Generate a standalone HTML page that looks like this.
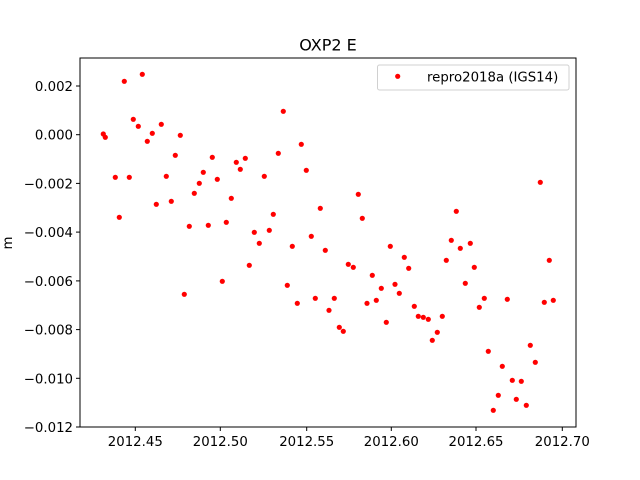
<!DOCTYPE html>
<html><head><meta charset="utf-8"><style>
html,body{margin:0;padding:0;background:#fff}
svg{display:block;font-family:"DejaVu Sans","Liberation Sans",sans-serif}
</style></head><body>
<svg width="640" height="480" viewBox="0 0 640 480" xmlns="http://www.w3.org/2000/svg">
<rect width="640" height="480" fill="#fff"/>
<g fill="#ff0000">
<circle cx="124.3" cy="81.3" r="2.6"/><circle cx="142.3" cy="74.3" r="2.6"/><circle cx="133.3" cy="119.3" r="2.6"/><circle cx="138.3" cy="126.3" r="2.6"/><circle cx="161.3" cy="124.3" r="2.6"/><circle cx="152.3" cy="133.3" r="2.6"/><circle cx="147.3" cy="141.3" r="2.6"/><circle cx="103.3" cy="134" r="2.6"/><circle cx="105.3" cy="137.3" r="2.6"/><circle cx="180.3" cy="135.3" r="2.6"/><circle cx="175.3" cy="155.3" r="2.6"/><circle cx="212.3" cy="157.3" r="2.6"/><circle cx="236.3" cy="162.3" r="2.6"/><circle cx="245.3" cy="158.3" r="2.6"/><circle cx="240.3" cy="169.3" r="2.6"/><circle cx="203.3" cy="172.3" r="2.6"/><circle cx="217.3" cy="179.3" r="2.6"/><circle cx="199.3" cy="183.3" r="2.6"/><circle cx="194.3" cy="193.3" r="2.6"/><circle cx="231.3" cy="198.3" r="2.6"/><circle cx="115.3" cy="177.3" r="2.6"/><circle cx="129.3" cy="177.3" r="2.6"/><circle cx="166.3" cy="176.3" r="2.6"/><circle cx="156.3" cy="204.3" r="2.6"/><circle cx="171.3" cy="201.3" r="2.6"/><circle cx="119.3" cy="217.3" r="2.6"/><circle cx="189.3" cy="226.3" r="2.6"/><circle cx="208.3" cy="225.3" r="2.6"/><circle cx="226.3" cy="222.3" r="2.6"/><circle cx="249.3" cy="265.3" r="2.6"/><circle cx="222.3" cy="281.3" r="2.6"/><circle cx="184.3" cy="294.3" r="2.6"/>
<circle cx="283.3" cy="111.3" r="2.6"/><circle cx="301.3" cy="144.3" r="2.6"/><circle cx="278.3" cy="153.3" r="2.6"/><circle cx="306.3" cy="170.3" r="2.6"/><circle cx="264.3" cy="176.3" r="2.6"/><circle cx="358.3" cy="194.3" r="2.6"/><circle cx="320.3" cy="208.3" r="2.6"/><circle cx="362.3" cy="218.3" r="2.6"/><circle cx="273.3" cy="214.3" r="2.6"/><circle cx="254.3" cy="232.3" r="2.6"/><circle cx="269.3" cy="230.3" r="2.6"/><circle cx="259.3" cy="243.3" r="2.6"/><circle cx="311.3" cy="236.3" r="2.6"/><circle cx="292.3" cy="246.3" r="2.6"/><circle cx="325.3" cy="250.3" r="2.6"/><circle cx="390.3" cy="246.3" r="2.6"/><circle cx="404.3" cy="257.3" r="2.6"/><circle cx="408.7" cy="268.3" r="2.6"/><circle cx="348.3" cy="264.3" r="2.6"/><circle cx="353.3" cy="267.3" r="2.6"/><circle cx="372.3" cy="275.3" r="2.6"/><circle cx="287.3" cy="285.3" r="2.6"/><circle cx="381.3" cy="288.3" r="2.6"/><circle cx="395" cy="284.3" r="2.6"/><circle cx="399.3" cy="293.3" r="2.6"/><circle cx="315.3" cy="298.3" r="2.6"/><circle cx="334.3" cy="298.3" r="2.6"/><circle cx="297.3" cy="303.3" r="2.6"/><circle cx="367" cy="303.3" r="2.6"/><circle cx="376.3" cy="300.3" r="2.6"/><circle cx="329" cy="310.3" r="2.6"/><circle cx="386.3" cy="322.3" r="2.6"/><circle cx="339.3" cy="327.3" r="2.6"/><circle cx="343.3" cy="331.3" r="2.6"/>
<circle cx="540.3" cy="182.3" r="2.6"/><circle cx="456.3" cy="211.3" r="2.6"/><circle cx="451.3" cy="240.3" r="2.6"/><circle cx="460.3" cy="248.3" r="2.6"/><circle cx="470.3" cy="243.3" r="2.6"/><circle cx="446.3" cy="260.3" r="2.6"/><circle cx="549.3" cy="260.3" r="2.6"/><circle cx="474.3" cy="267.3" r="2.6"/><circle cx="465.3" cy="283.3" r="2.6"/><circle cx="484.3" cy="298.3" r="2.6"/><circle cx="479.3" cy="307.3" r="2.6"/><circle cx="507.3" cy="299.3" r="2.6"/><circle cx="544.3" cy="302.3" r="2.6"/><circle cx="553.3" cy="300.3" r="2.6"/><circle cx="414.3" cy="306.3" r="2.6"/><circle cx="418.3" cy="316.3" r="2.6"/><circle cx="423.3" cy="317.3" r="2.6"/><circle cx="428.3" cy="319.3" r="2.6"/><circle cx="442.3" cy="316.3" r="2.6"/><circle cx="437.3" cy="332.3" r="2.6"/><circle cx="432.3" cy="340.3" r="2.6"/><circle cx="530.3" cy="345.3" r="2.6"/><circle cx="488.3" cy="351.3" r="2.6"/><circle cx="535.3" cy="362.3" r="2.6"/><circle cx="502.3" cy="366.3" r="2.6"/><circle cx="512.3" cy="380.3" r="2.6"/><circle cx="521.3" cy="381.3" r="2.6"/><circle cx="498.3" cy="395.3" r="2.6"/><circle cx="516.3" cy="399.3" r="2.6"/><circle cx="526.3" cy="405.3" r="2.6"/><circle cx="493.3" cy="410.3" r="2.6"/>
</g>
<rect x="80" y="58" width="496" height="369" fill="none" stroke="#000" stroke-width="1"/>
<g stroke="#000" stroke-width="1">
<line x1="135.3" y1="427" x2="135.3" y2="431"/><line x1="220.3" y1="427" x2="220.3" y2="431"/><line x1="306.7" y1="427" x2="306.7" y2="431"/><line x1="391.3" y1="427" x2="391.3" y2="431"/><line x1="476" y1="427" x2="476" y2="431"/><line x1="562.3" y1="427" x2="562.3" y2="431"/>
<line x1="76" y1="86" x2="80" y2="86"/><line x1="76" y1="134.7" x2="80" y2="134.7"/><line x1="76" y1="183.4" x2="80" y2="183.4"/><line x1="76" y1="232.1" x2="80" y2="232.1"/><line x1="76" y1="280.9" x2="80" y2="280.9"/><line x1="76" y1="329.6" x2="80" y2="329.6"/><line x1="76" y1="378.3" x2="80" y2="378.3"/><line x1="76" y1="427" x2="80" y2="427"/>
</g>
<g font-size="13.3" fill="#000" text-anchor="middle">
<text x="135.3" y="446">2012.45</text><text x="220.3" y="446">2012.50</text><text x="306.7" y="446">2012.55</text><text x="391.3" y="446">2012.60</text><text x="476" y="446">2012.65</text><text x="562.3" y="446">2012.70</text>
</g>
<g font-size="13.3" fill="#000" text-anchor="end">
<text x="73" y="91">0.002</text><text x="73" y="139.7">0.000</text><text x="73" y="188.4">−0.002</text><text x="73" y="237.1">−0.004</text><text x="73" y="285.9">−0.006</text><text x="73" y="334.6">−0.008</text><text x="73" y="383.3">−0.010</text><text x="73" y="432">−0.012</text>
</g>
<text x="12" y="243" font-size="13.3" text-anchor="middle" transform="rotate(-90 12 243)">m</text>
<text x="328" y="50.5" font-size="16" text-anchor="middle">OXP2 E</text>
<rect x="377.5" y="65" width="191.5" height="25" rx="2" fill="#fff" stroke="#d0d0d0" stroke-width="1"/>
<circle cx="397.7" cy="76.3" r="2.6" fill="#ff0000"/>
<text x="427" y="81.5" font-size="13.3">repro2018a (IGS14)</text>
</svg>
</body></html>
